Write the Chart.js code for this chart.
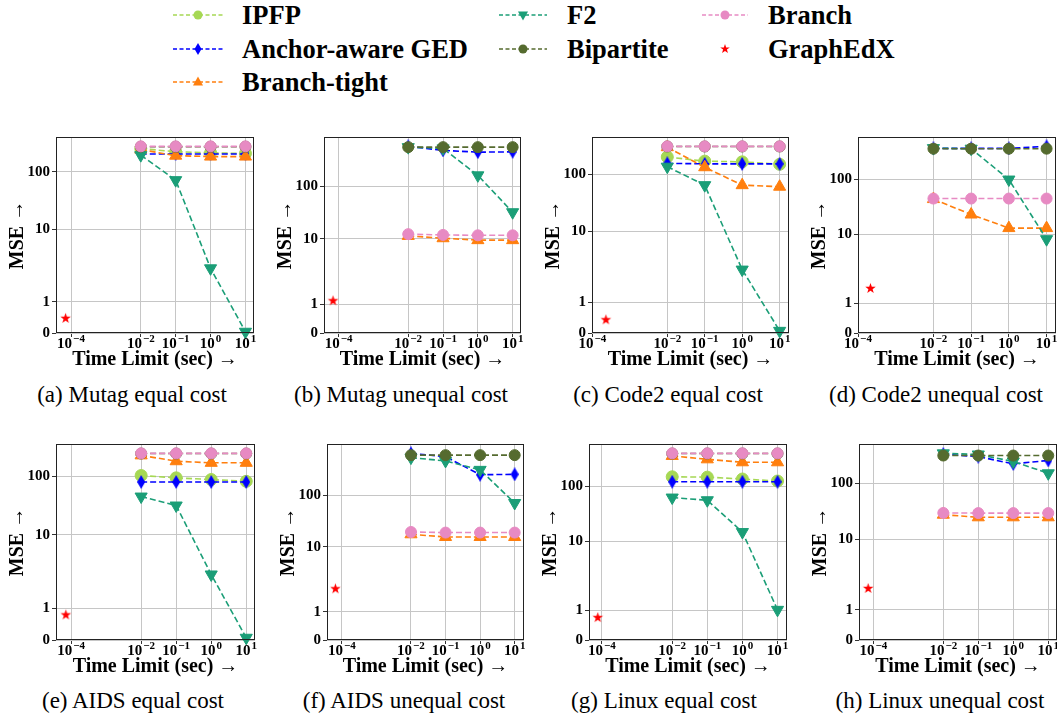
<!DOCTYPE html>
<html><head><meta charset="utf-8">
<script src="https://cdn.jsdelivr.net/npm/chart.js@4.4.1/dist/chart.umd.min.js"></script>
<style>
html,body{margin:0;padding:0;background:#fff;}
body{width:1057px;height:717px;position:relative;overflow:hidden;}
canvas{position:absolute;}
.cap{position:absolute;font-family:"Liberation Serif",serif;font-size:23px;white-space:nowrap;transform:translate(-50%,-50%);color:#000;}
.leg{position:absolute;font-family:"Liberation Serif",serif;font-weight:bold;font-size:26.5px;white-space:nowrap;transform:translateY(-50%);color:#000;line-height:1;}
#legsvg{position:absolute;left:0;top:0;}
</style></head><body>
<svg id="legsvg" width="1057" height="100"></svg>
<script>
// ---------------- data ----------------
const TIME_LIMITS = [0.01, 0.1, 1, 10];
const X_TICKS = [1e-4, 1e-2, 1e-1, 1, 10];
const X_TICK_BASES = ['10', '10', '10', '10', '10'];
const X_TICK_EXPONENTS = ['\u22124', '\u22122', '\u22121', '0', '1'];
const Y_TICKS = [0, 1, 10, 100];
const CAPTIONS = ['(a) Mutag equal cost', '(b) Mutag unequal cost', '(c) Code2 equal cost', '(d) Code2 unequal cost',
                  '(e) AIDS equal cost', '(f) AIDS unequal cost', '(g) Linux equal cost', '(h) Linux unequal cost'];
const SERIES_NAMES = ['IPFP', 'Anchor-aware GED', 'Branch-tight', 'F2', 'Bipartite', 'Branch', 'GraphEdX'];
// MSE per panel (a..h) at TIME_LIMITS; null = method not shown
const IPFP = [
  [255, 225, 215, 210], null, [205, 173, 168, 152], null,
  [103, 94, 88, 82], null, [148, 146, 135, 124], null];
const ANCHOR_GED = [
  [205, 205, 205, 205], [580, 485, 449, 455], [158, 155, 155, 155], [370, 370, 370, 404],
  [80, 80, 80, 80], [650, 560, 250, 255], [120, 120, 120, 120], [335, 302, 224, 258]];
const BRANCH_TIGHT = [
  [245, 192, 185, 185], [11.3, 10.2, 9.5, 9.5], [305, 135, 65, 61], [44, 23, 13, 13],
  [228, 181, 170, 170], [17.6, 15.6, 15.6, 15.6], [355, 308, 272, 272], [27.6, 24.8, 24.8, 24.8]];
const F2 = [
  [196, 72, 2.9, 0.04], [560, 530, 162, 32], [138, 65, 2.88, 0.07], [375, 366, 100, 8.5],
  [45, 31.6, 2.88, 0.07], [537, 463, 311, 71], [62, 55.4, 14.6, 1.01], [346, 330, 247, 152]];
const BIPARTITE = [
  [275, 275, 275, 275], [560, 560, 560, 560], [314, 314, 314, 314], [366, 366, 366, 366],
  [245, 245, 245, 245], [600, 600, 600, 600], [393, 393, 393, 393], [316, 316, 316, 316]];
const BRANCH = [
  [279, 279, 279, 279], [12.2, 11.8, 11.6, 11.6], [316, 316, 316, 316], [45, 45, 45, 45],
  [247, 247, 247, 247], [19.5, 19, 19, 19], [396, 396, 396, 396], [29.7, 29.5, 29.5, 29.5]];
const GRAPHEDX_TIME = [7.0e-5, 6.9e-5, 2.3e-4, 2.14e-4, 7.1e-5, 6.5e-5, 7.6e-5, 7.1e-5];
const GRAPHEDX_MSE = [0.47, 1.14, 0.43, 1.64, 0.79, 2.27, 0.75, 2.0];
// x-axis limits (log10 of seconds)
const X_MIN_EXP = [-4.43, -4.42, -4.01, -4.0, -4.43, -4.43, -4.37, -4.41];
const X_MAX_EXP = [1.245, 1.24, 1.25, 1.25, 1.25, 1.27, 1.27, 1.25];

// ---------------- layout / style ----------------
const PANEL_BOX = [ // plot-area left, top, width, height (px)
  [56, 137, 198, 196], [324, 137, 197, 196], [592, 137, 197, 196], [858, 137, 198, 196],
  [56, 444, 199, 196], [327, 444, 197, 196], [589, 444, 198, 196], [859, 444, 198, 196]];
const CAPTION_POS = [[132, 395], [401, 395], [668, 395], [936, 395], [133, 701], [404, 701], [664, 701], [940, 701]];
const COLORS = ['#a6d854', '#0000ff', '#ff7f0e', '#1b9e77', '#556b2f', '#e78ac3', '#ff0000'];
const Y_AXIS_W = 52, X_AXIS_H = 41, PAD_T = 8, PAD_R = 8;
const SERIF = '"Liberation Serif", "Times New Roman", serif';

// ---------------- custom y scale: linear below 1, log-like above ----------------
const Q1 = 0.194, Q10 = 0.643, Q100 = 1.0;
function T(v) {
  if (v <= 1) return Q1 * v;
  const t = Math.log10(v);
  if (t <= 1) return Q1 + (Q10 - Q1) * t;
  return Q10 + (Q100 - Q10) * (t - 1);
}
function Tinv(q) {
  if (q <= Q1) return q / Q1;
  if (q <= Q10) return Math.pow(10, (q - Q1) / (Q10 - Q1));
  return Math.pow(10, 1 + (q - Q10) / (Q100 - Q10));
}
class MseScale extends Chart.LinearScale {
  determineDataLimits() {
    super.determineDataLimits();
    const top = this.max;
    this.min = 0;
    this.max = Tinv(T(top) * 1.05);
  }
  buildTicks() { return Y_TICKS.map(v => ({ value: v })); }
  configure() {
    super.configure();
    this._q0 = T(this.min); this._q1 = T(this.max);
  }
  getPixelForValue(v) {
    if (v === null || v === undefined) return NaN;
    return this.getPixelForDecimal((T(v) - this._q0) / (this._q1 - this._q0));
  }
  getValueForPixel(p) { return Tinv(this._q0 + this.getDecimalForPixel(p) * (this._q1 - this._q0)); }
}
MseScale.id = 'mse';
MseScale.defaults = Chart.LinearScale.defaults;
Chart.register(MseScale);

// ---------------- marker images ----------------
function makeDiamond(w, h, color) {
  const c = document.createElement('canvas'); c.width = w; c.height = h;
  const g = c.getContext('2d'); g.fillStyle = color;
  g.beginPath(); g.moveTo(w / 2, 0); g.lineTo(w, h / 2); g.lineTo(w / 2, h); g.lineTo(0, h / 2); g.closePath(); g.fill();
  return c;
}
function makeStar(r, color) {
  const s = Math.ceil(2 * r + 2); const c = document.createElement('canvas'); c.width = s; c.height = s;
  const g = c.getContext('2d'); g.fillStyle = color; g.beginPath();
  for (let k = 0; k < 10; k++) {
    const rr = k % 2 === 0 ? r : r * 0.4; const a = -Math.PI / 2 + k * Math.PI / 5;
    const px = s / 2 + rr * Math.cos(a), py = s / 2 + rr * Math.sin(a);
    if (k === 0) g.moveTo(px, py); else g.lineTo(px, py);
  }
  g.closePath(); g.fill(); return c;
}
const DIAMOND_IMG = makeDiamond(8, 14, COLORS[1]);
const STAR_IMG = makeStar(5.5, COLORS[6]);

const framePlugin = {
  id: 'frame',
  afterDatasetsDraw(chart) {
    const { ctx, chartArea: a } = chart;
    ctx.save(); ctx.strokeStyle = '#222'; ctx.lineWidth = 1;
    ctx.strokeRect(Math.round(a.left) + 0.5, Math.round(a.top) + 0.5, Math.round(a.right - a.left) - 1, Math.round(a.bottom - a.top) - 1);
    ctx.restore();
  }
};
// x tick labels as 10^k (base + raised exponent) at the scale's tick pixels
const xTickLabelPlugin = {
  id: 'xticklabels',
  afterDraw(chart) {
    const s = chart.scales.x, ctx = chart.ctx;
    ctx.save(); ctx.fillStyle = '#000'; ctx.textBaseline = 'alphabetic'; ctx.textAlign = 'left';
    s.ticks.forEach((t, i) => {
      const x = s.getPixelForValue(t.value);
      const base = X_TICK_BASES[i], ex = X_TICK_EXPONENTS[i];
      ctx.font = 'bold 15px ' + SERIF; const w1 = ctx.measureText(base).width;
      ctx.font = 'bold 11px ' + SERIF; const w2 = ctx.measureText(ex).width;
      const x0 = x - (w1 + w2 + 1) / 2, y = s.top + 15;
      ctx.font = 'bold 15px ' + SERIF; ctx.fillText(base, x0, y);
      ctx.font = 'bold 11px ' + SERIF; ctx.fillText(ex, x0 + w1 + 1, y - 6);
    });
    ctx.restore();
  }
};

const TICK_FONT = { family: SERIF, weight: 'bold', size: 15 };
const TITLE_FONT = { family: SERIF, weight: 'bold', size: 20 };

function lineDataset(i, name, vals, style) {
  return Object.assign({
    label: name,
    data: TIME_LIMITS.map((t, k) => ({ x: t, y: vals[k] })),
    borderColor: COLORS[i], backgroundColor: COLORS[i],
    pointBackgroundColor: COLORS[i], pointBorderColor: COLORS[i],
    borderWidth: 1.6, borderDash: [6, 3], pointBorderWidth: 1,
    order: 10 - i, tension: 0
  }, style);
}

for (let p = 0; p < 8; p++) {
  const [L, Tp, W, H] = PANEL_BOX[p];
  const cv = document.createElement('canvas');
  const cw = W + Y_AXIS_W + PAD_R, ch = H + PAD_T + X_AXIS_H;
  cv.width = cw; cv.height = ch;
  cv.style.left = (L - Y_AXIS_W) + 'px'; cv.style.top = (Tp - PAD_T) + 'px';
  cv.style.width = cw + 'px'; cv.style.height = ch + 'px';
  document.body.appendChild(cv);

  const ds = [];
  const series = [IPFP, ANCHOR_GED, BRANCH_TIGHT, F2, BIPARTITE, BRANCH];
  const styles = [
    { pointStyle: 'circle', pointRadius: 6 },
    { pointStyle: DIAMOND_IMG, pointRadius: 7 },
    { pointStyle: 'triangle', pointRadius: 7 },
    { pointStyle: 'triangle', pointRadius: 7, pointRotation: 180 },
    { pointStyle: 'circle', pointRadius: 5.5 },
    { pointStyle: 'circle', pointRadius: 5.5 }
  ];
  series.forEach((arr, i) => { if (arr[p]) ds.push(lineDataset(i, SERIES_NAMES[i], arr[p], styles[i])); });
  ds.push({
    label: SERIES_NAMES[6], data: [{ x: GRAPHEDX_TIME[p], y: GRAPHEDX_MSE[p] }],
    showLine: false, pointStyle: STAR_IMG, pointRadius: 6, borderColor: COLORS[6], backgroundColor: COLORS[6], order: 4
  });

  new Chart(cv, {
    type: 'line',
    data: { datasets: ds },
    plugins: [framePlugin, xTickLabelPlugin],
    options: {
      responsive: false, animation: false, devicePixelRatio: 1,
      layout: { padding: { left: 0, top: PAD_T, right: PAD_R, bottom: 0 } },
      plugins: { legend: { display: false }, tooltip: { enabled: false } },
      scales: {
        x: {
          type: 'logarithmic', min: Math.pow(10, X_MIN_EXP[p]), max: Math.pow(10, X_MAX_EXP[p]), bounds: 'data',
          afterBuildTicks: s => { s.ticks = X_TICKS.map(v => ({ value: v })); },
          afterFit: s => { s.height = X_AXIS_H; s.paddingLeft = 0; s.paddingRight = 0; },
          ticks: { display: false, autoSkip: false, maxRotation: 0, minRotation: 0 },
          grid: { color: '#c6c6c6', lineWidth: 1, tickLength: 4, tickColor: '#333' },
          border: { display: false },
          title: { display: true, text: 'Time Limit (sec) \u2192', color: '#000', font: TITLE_FONT, padding: { top: 0, bottom: 2 } }
        },
        y: {
          type: 'mse',
          afterFit: s => { s.width = Y_AXIS_W; s.paddingTop = 0; s.paddingBottom = 0; },
          ticks: { padding: 2, color: '#000', font: TICK_FONT, callback: v => String(v) },
          grid: { color: '#c6c6c6', lineWidth: 1, tickLength: 4, tickColor: '#333' },
          border: { display: false },
          title: { display: true, text: 'MSE \u2192', color: '#000', font: TITLE_FONT, padding: { top: 2, bottom: 0 } }
        }
      }
    }
  });

  const cap = document.createElement('div');
  cap.className = 'cap'; cap.textContent = CAPTIONS[p];
  cap.style.left = CAPTION_POS[p][0] + 'px'; cap.style.top = CAPTION_POS[p][1] + 'px';
  document.body.appendChild(cap);
}

// ---------------- legend (3 columns, column-major) ----------------
const LEG_COL_LINE = [[173, 223], [499, 547], [702, 748]];
const LEG_COL_TEXT = [242, 567, 768];
const LEG_ROW_Y = [15, 49, 82];
const LEG_SLOTS = [[0, 0], [0, 1], [0, 2], [1, 0], [1, 1], [2, 0], [2, 1]];
const svg = document.getElementById('legsvg');
const NS = 'http://www.w3.org/2000/svg';
function el(tag, attrs) { const e = document.createElementNS(NS, tag); for (const k in attrs) e.setAttribute(k, attrs[k]); svg.appendChild(e); return e; }
SERIES_NAMES.forEach((name, i) => {
  const [c, r] = LEG_SLOTS[i];
  const [x1, x2] = LEG_COL_LINE[c]; const y = LEG_ROW_Y[r]; const cx = (x1 + x2) / 2; const col = COLORS[i];
  if (i < 6) el('line', { x1, x2, y1: y, y2: y, stroke: col, 'stroke-width': 1.5, 'stroke-dasharray': '4 2.5' });
  if (i === 0 || i === 4 || i === 5) el('circle', { cx, cy: y, r: 4.5, fill: col });
  else if (i === 1) el('polygon', { points: `${cx},${y - 6} ${cx + 3.5},${y} ${cx},${y + 6} ${cx - 3.5},${y}`, fill: col });
  else if (i === 2) el('polygon', { points: `${cx},${y - 5.5} ${cx + 5},${y + 3.5} ${cx - 5},${y + 3.5}`, fill: col });
  else if (i === 3) el('polygon', { points: `${cx},${y + 5.5} ${cx + 5},${y - 3.5} ${cx - 5},${y - 3.5}`, fill: col });
  else {
    let pts = [];
    for (let k = 0; k < 10; k++) { const rr = k % 2 === 0 ? 5 : 2; const a = -Math.PI / 2 + k * Math.PI / 5; pts.push((cx + rr * Math.cos(a)).toFixed(2) + ',' + (y + rr * Math.sin(a)).toFixed(2)); }
    el('polygon', { points: pts.join(' '), fill: col });
  }
  const t = document.createElement('div'); t.className = 'leg'; t.textContent = name;
  t.style.left = LEG_COL_TEXT[c] + 'px'; t.style.top = y + 'px';
  document.body.appendChild(t);
});
</script>
</body></html>
